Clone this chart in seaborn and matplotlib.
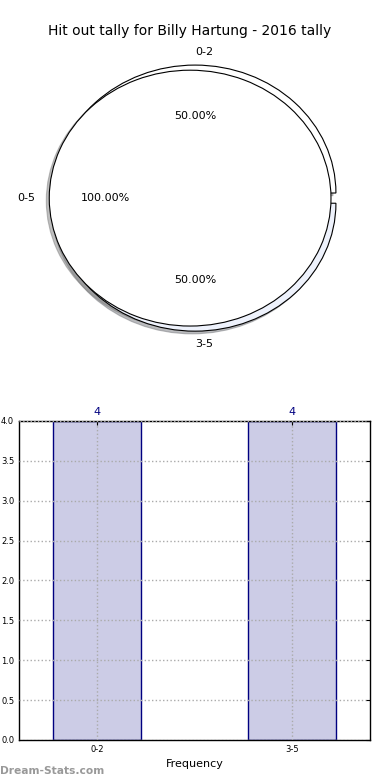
import numpy as np
import pandas as pd
import matplotlib
matplotlib.use("Agg")
import matplotlib.pyplot as plt
import seaborn as sns

# data
outer_labels = ['0-5']
outer_sizes = [8]
inner_labels = ['0-2', '3-5']
inner_sizes = [4, 4]
bar_cats = ['0-2', '3-5']
bar_vals = [4, 4]
ytick_vals = [0.0, 0.5, 1.0, 1.5, 2.0, 2.5, 3.0, 3.5, 4.0]

sns.set_style("white")
plt.rcParams['font.family'] = ['DejaVu Sans']
plt.rcParams['text.color'] = 'black'
plt.rcParams['axes.labelcolor'] = 'black'

fig = plt.figure(figsize=(3.9, 7.8), dpi=100)

# pie chart on top
ax1 = fig.add_axes([0.036, 0.541, 0.903, 0.41])
shadow = dict(ox=-0.015, oy=-0.015, shade=0.5)
ax1.pie(inner_sizes, labels=inner_labels, autopct='%.2f%%', startangle=0,
        explode=[0.04, 0.04], center=(0.035, 0), shadow=shadow,
        colors=['white', '#eef2fc'], labeldistance=1.1, pctdistance=0.6,
        wedgeprops=dict(edgecolor='black', linewidth=0.8),
        textprops=dict(fontsize=8, color='black'))
ax1.pie(outer_sizes, labels=outer_labels, autopct='%.2f%%', startangle=0,
        shadow=shadow, colors=['white'], labeldistance=1.1, pctdistance=0.6,
        wedgeprops=dict(edgecolor='black', linewidth=0.8),
        textprops=dict(fontsize=8, color='black'))
ax1.set_aspect('auto')
ax1.set_xlim(-1.25, 1.25)
ax1.set_ylim(-1.25, 1.25)
ax1.set_title('Hit out tally for Billy Hartung - 2016 tally', fontsize=10,
              pad=2, color='black')

# bar chart below
ax2 = fig.add_axes([0.0487, 0.0513, 0.9, 0.409])
df = pd.DataFrame({'range': bar_cats, 'count': bar_vals})
sns.barplot(data=df, x='range', y='count', ax=ax2, color='#cccce6',
            saturation=1, width=0.45, edgecolor='#000080', linewidth=1)
ax2.set_xlim(-0.4, 1.4)
ax2.set_ylim(0, 4)
ax2.set_yticks(ytick_vals)
ax2.set_yticklabels([f'{v:.1f}' for v in ytick_vals])
ax2.tick_params(axis='both', direction='in', labelsize=6, length=3,
                top=True, right=True, colors='black')
ax2.grid(True, linestyle=':', color='#aaaaaa', linewidth=1)
ax2.set_axisbelow(False)
for s in ax2.spines.values():
    s.set_color('black')
    s.set_linewidth(1)
ax2.set_xlabel('Frequency', fontsize=8, labelpad=4)
ax2.set_ylabel('')

for p in ax2.patches:
    ax2.annotate(f'{p.get_height():.0f}',
                 (p.get_x() + p.get_width() / 2., p.get_height()),
                 ha='center', va='bottom', xytext=(0, 3),
                 textcoords='offset points', fontsize=8, color='#000080')

fig.text(0.0, 0.005, 'Dream-Stats.com', fontsize=7.7, color='#999999',
         fontweight='bold', ha='left', va='bottom')

fig.savefig('out.png', dpi=100)
